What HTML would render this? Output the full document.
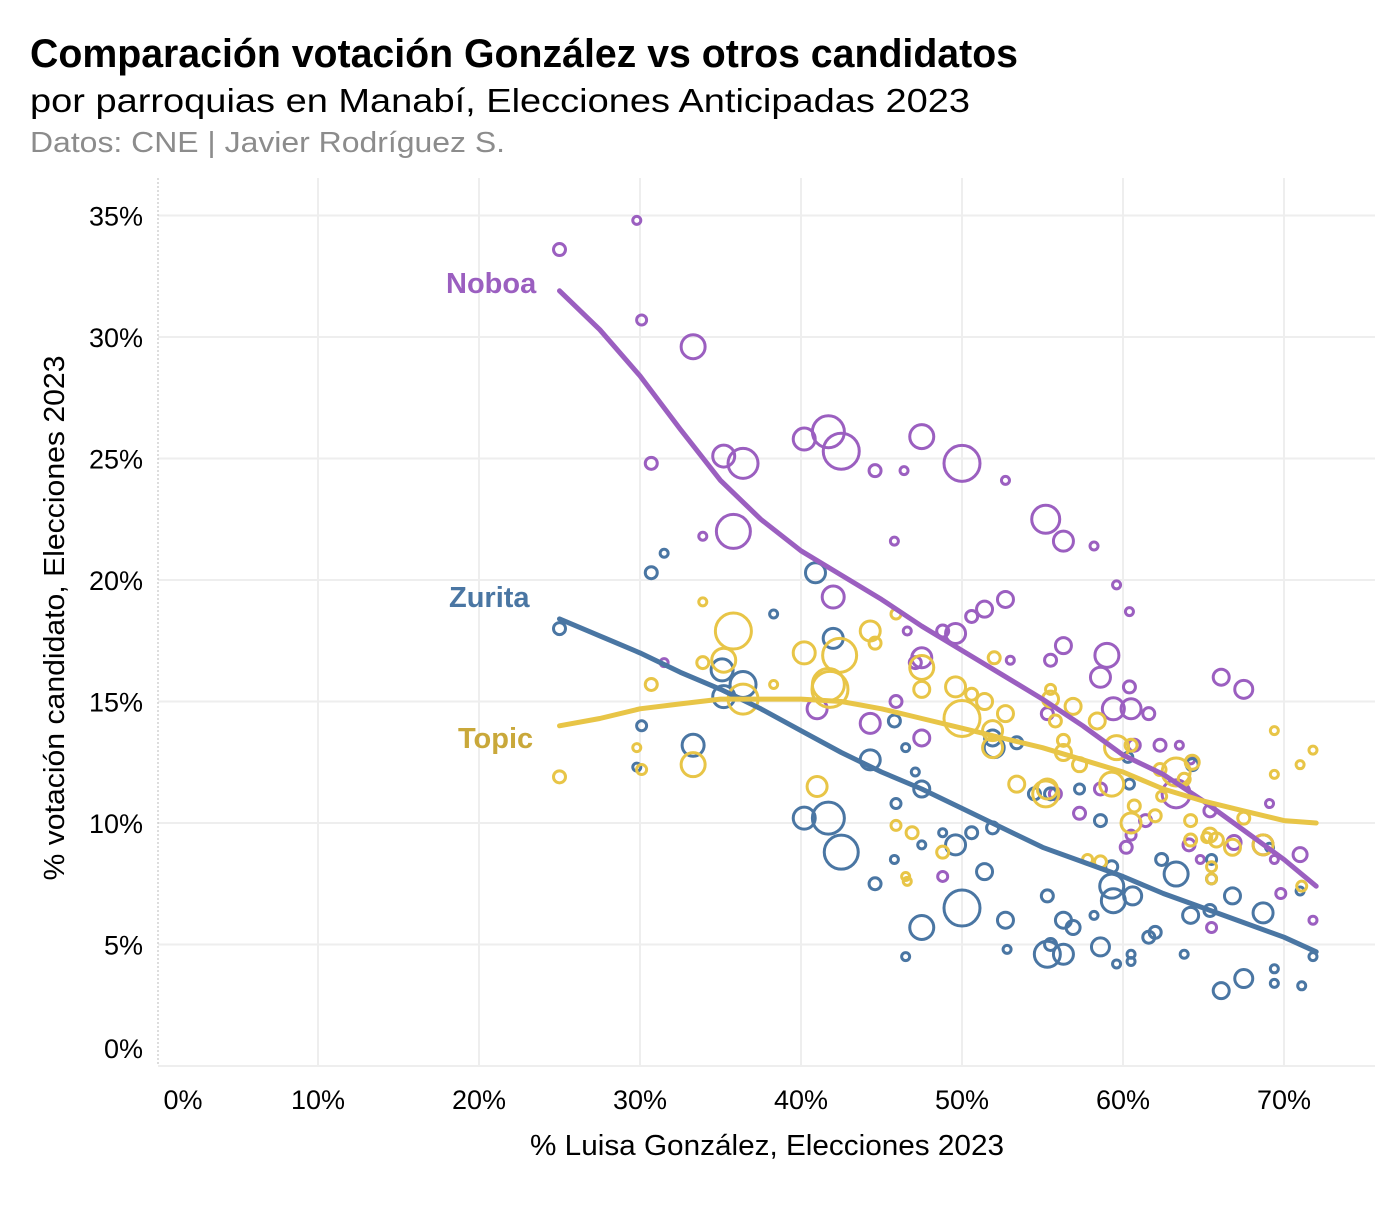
<!DOCTYPE html>
<html><head><meta charset="utf-8"><style>
body{margin:0;background:#fff;font-family:"Liberation Sans",Arial,sans-serif}
svg text{font-family:"Liberation Sans",Arial,sans-serif}
</style></head><body>
<svg id="chart" width="1400" height="1200" viewBox="0 0 1400 1200" xmlns="http://www.w3.org/2000/svg">
<text x="30" y="67" font-size="40" font-weight="bold" textLength="988" lengthAdjust="spacingAndGlyphs">Comparación votación González vs otros candidatos</text>
<text x="30" y="112" font-size="33" textLength="940" lengthAdjust="spacingAndGlyphs">por parroquias en Manabí, Elecciones Anticipadas 2023</text>
<text x="30" y="152" font-size="29" fill="#8c8c8c" textLength="475" lengthAdjust="spacingAndGlyphs">Datos: CNE | Javier Rodríguez S.</text>
<g id="grid"></g><g id="pts"></g><g id="lines"></g><g id="axes"></g>
<text x="767" y="1155" font-size="29" text-anchor="middle" textLength="474" lengthAdjust="spacingAndGlyphs">% Luisa González, Elecciones 2023</text>
<text transform="translate(64,618) rotate(-90)" font-size="29" text-anchor="middle" textLength="525" lengthAdjust="spacingAndGlyphs">% votación candidato, Elecciones 2023</text>
<text x="446" y="293" font-size="29" font-weight="bold" fill="#9b5fc0">Noboa</text>
<text x="449" y="607" font-size="29" font-weight="bold" fill="#4a76a3">Zurita</text>
<text x="458" y="748" font-size="29" font-weight="bold" fill="#c9a83a">Topic</text>
</svg>
<script>
const xTicks=[0,10,20,30,40,50,60,70];
const yTicks=[0,5,10,15,20,25,30,35];
const noboaX=[25,29.8,30.1,33.3,30.7,33.9,35.2,36.4,35.8,40.2,41.7,42.5,44.6,46.4,47.5,50,52.7,45.8,42,41,44.3,45.9,46.6,47.1,47.5,47.5,48.8,49.6,50.6,51.4,52.7,53,55.2,56.3,58.2,59.6,59,56.3,55.5,58.6,60.4,60.4,60.5,59.4,61.6,66.1,67.5,63.5,64.2,62.3,60.7,58.6,55.8,57.3,60.2,61.4,64.1,64.8,65.4,69.1,69.4,71,71.8,66.9,65.5,55.3,60.5,69.8,48.8,63.3,68.7,31.5];
const noboaY=[33.6,34.8,30.7,29.6,24.8,21.8,25.1,24.8,22,25.8,26.1,25.3,24.5,24.5,25.9,24.8,24.1,21.6,19.3,14.7,14.1,15,17.9,16.6,16.8,13.5,17.9,17.8,18.5,18.8,19.2,16.7,22.5,21.6,21.4,19.8,16.9,17.3,16.7,16,18.7,15.6,14.7,14.7,14.5,16,15.5,13.2,12.6,13.2,13.2,11.4,11.2,10.4,9,10.1,9.1,8.5,10.5,10.8,8.5,8.7,6,9.2,5.7,14.5,9.5,7.1,7.8,11.2,9.1,16.6];
const noboaS=[6,4,5,12,6,4,11,15,17,11,16,18,6,4,12,18,4,4,11,10,10,6,4,6,10,8,6,10,6,8,8,4,14,10,4,4,12,8,6,10,4,6,10,11,6,8,9,4,4,6,6,6,6,6,6,6,6,4,6,4,4,7,4,7,5,6,5,5,5,14,10,4];
const zuritaX=[25,30.7,31.5,30.1,29.8,33.3,35.1,36.4,35.2,38.3,40.9,42,40.2,41.7,42.5,44.3,44.6,45.9,45.8,46.5,47.1,47.5,47.5,45.8,46.5,47.5,48.8,49.6,50,50.6,51.4,51.9,51.9,52.7,52.8,53.4,54.5,55.3,56.3,55.5,55.3,56.3,56.9,58.6,58.2,58.6,57.3,59.3,59.3,59.4,60.6,59.6,60.5,60.5,61.6,62,62.4,63.3,63.8,64.2,65.4,65.5,65.5,66.8,66.1,67.5,68.7,69.4,69.4,71.1,71.8,71,60.3,60.4,52,55.5,69.1,64.3];
const zuritaY=[18,20.3,21.1,14,12.3,13.2,16.3,15.7,15.2,18.6,20.3,17.6,10.2,10.2,8.8,12.6,7.5,10.8,14.2,13.1,12.1,11.4,9.1,8.5,4.5,5.7,9.6,9.1,6.5,9.6,8,9.8,13.5,6,4.8,13.3,11.2,4.6,4.6,5,7,6,5.7,4.9,6.2,10.1,11.4,8.2,7.4,6.8,7,4.2,4.3,4.6,5.3,5.5,8.5,7.9,4.6,6.2,6.4,7.7,8.5,7,3.1,3.6,6.3,4,3.4,3.3,4.5,7.2,12.7,11.6,13.1,11.2,9,12.4];
const zuritaS=[6,6,4,5,4,11,11,13,11,4,10,10,11,16,17,10,6,5,6,4,4,8,4,4,4,12,4,10,18,6,8,6,8,8,4,6,6,13,10,6,6,8,7,9,4,6,5,6,12,12,9,4,4,4,6,6,6,12,4,8,6,5,5,8,8,9,10,4,4,4,4,4,5,5,10,6,4,6];
const topicX=[25,29.8,30.1,30.7,33.9,33.3,35.2,35.8,36.4,38.3,33.9,40.2,41,41.7,41.8,42.4,44.3,44.6,45.9,46.5,46.6,46.9,45.9,47.5,47.5,48.8,49.6,50,50.6,51.4,51.9,51.9,52,52.7,53.4,55.2,55.3,55.5,55.5,55.8,56.3,56.3,56.9,57.3,58.4,58.6,57.8,59.3,59.6,60.5,60.7,60.5,62.3,62,63.3,63.8,64.2,64.2,64.3,65.4,65.5,65.5,65.8,66.8,67.5,68.7,69.4,69.4,71,71.8,71.1,65.2,62.4];
const topicY=[11.9,13.1,12.2,15.7,19.1,12.4,16.7,17.9,15.1,15.7,16.6,17,11.5,15.7,15.5,16.9,17.9,17.4,18.6,7.8,7.6,9.6,9.9,16.4,15.5,8.8,15.6,14.3,15.3,15,13.8,13.1,16.8,14.5,11.6,11.2,11.4,15.1,15.5,14.2,13.4,12.9,14.8,12.4,14.2,8.4,8.5,11.6,13.1,10,10.7,13.2,12.2,10.3,12.1,11.8,9.3,10.1,12.5,9.5,8.2,7.7,9.3,9,10.2,9.1,13.8,12,12.4,13,7.4,9.4,11.1];
const topicS=[6,4,5,6,4,12,12,18,15,4,6,11,10,16,18,17,10,6,5,4,4,6,5,12,8,6,10,18,6,8,10,10,6,8,8,13,10,8,5,6,6,8,8,7,8,6,5,12,12,10,6,6,6,6,14,6,6,6,7,7,5,5,7,8,6,10,4,4,4,4,5,5,5];
const lineX=[25,27.5,30,32.5,35,37.5,40,42.5,45,47.5,50,52.5,55,57.5,60,62.5,65,67.5,70,72];
const noboaLine=[31.9,30.3,28.4,26.2,24.1,22.5,21.2,20.2,19.2,18.1,17.1,16.1,15.1,14.0,12.8,12.0,10.9,9.7,8.5,7.4];
const zuritaLine=[18.4,17.7,17.0,16.2,15.5,14.7,13.8,12.9,12.1,11.4,10.6,9.8,9.0,8.4,7.8,7.1,6.5,5.9,5.3,4.7];
const topicLine=[14.0,14.3,14.7,14.9,15.1,15.1,15.1,15.0,14.7,14.3,13.9,13.5,13.1,12.6,12.1,11.4,10.9,10.5,10.1,10.0];

const NS="http://www.w3.org/2000/svg";
const X=v=>157+v*16.1;
const Y=v=>1066-v*24.3;
function mk(tag,parent,attrs){const e=document.createElementNS(NS,tag);for(const k in attrs)e.setAttribute(k,attrs[k]);document.getElementById(parent).appendChild(e);return e;}
const grid='grid';
xTicks.forEach(t=>{
  if(t>0){const l=mk('line',grid,{x1:X(t),x2:X(t),y1:178,y2:1066,stroke:'#eeeeee','stroke-width':2});
  
  }
  const tx=mk('text','axes',{x:t===0?183:X(t),y:1109,'font-size':27,'text-anchor':'middle'});
  tx.textContent=t+'%';
  
  
});
yTicks.forEach(t=>{
  if(t>0){const l=mk('line',grid,{x1:158,x2:1375,y1:Y(t),y2:Y(t),stroke:'#eeeeee','stroke-width':2});
  
  }
  const tx=mk('text','axes',{x:143,y:(t===0?1048:Y(t))+10,'font-size':27,'text-anchor':'end'});
  tx.textContent=t+'%';
  
  
});
const base=mk('line',grid,{x1:158,x2:1375,y1:1066,y2:1066,stroke:'#eeeeee','stroke-width':2});


const vl=mk('line',grid,{x1:158,x2:158,y1:178,y2:1066,stroke:'#bbbbbb','stroke-width':1,'stroke-dasharray':'2,2'});



function pts(xs,ys,ss,col,name){
  xs.forEach((x,i)=>{
    const c=mk('circle','pts',{cx:X(x),cy:Y(ys[i]),r:ss[i],fill:'none',stroke:col,'stroke-width':3});
    
    
  });
}
pts(noboaX,noboaY,noboaS,'#9b5fc0','point-noboa');
pts(zuritaX,zuritaY,zuritaS,'#4a76a3','point-zurita');
pts(topicX,topicY,topicS,'#e8c547','point-topic');
function line(vals,col,name){
  const d=vals.map((v,i)=>(i?'L':'M')+X(lineX[i]).toFixed(1)+','+Y(v).toFixed(1)).join(' ');
  const p=mk('path','lines',{d:d,fill:'none',stroke:col,'stroke-width':5,'stroke-linecap':'round','stroke-linejoin':'round'});
  
  
}
line(noboaLine,'#9b5fc0','trend-noboa');
line(zuritaLine,'#4a76a3','trend-zurita');
line(topicLine,'#e8c547','trend-topic');
</script>
</body></html>
